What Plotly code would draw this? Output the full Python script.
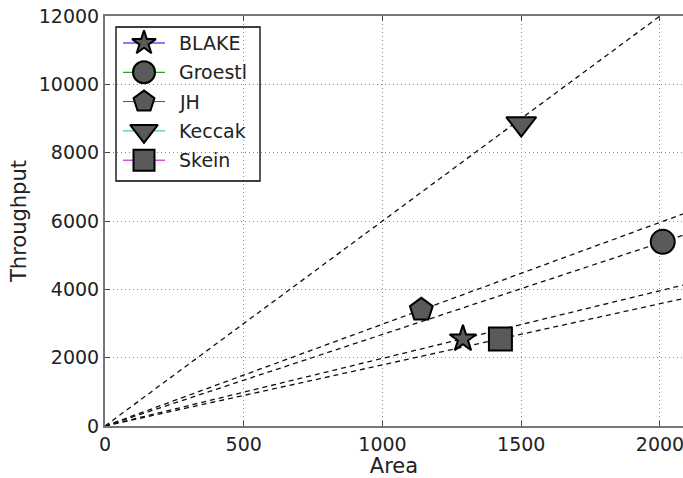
import plotly.graph_objects as go

names = ["BLAKE", "Groestl", "JH", "Keccak", "Skein"]
area = [1290, 2010, 1140, 1500, 1425]
throughput = [2550, 5390, 3400, 8850, 2550]
ratio = [1.98, 2.68, 2.98, 6.0, 1.79]
line_end_x = 2100
legend_colors = ["#0000ff", "#008000", "#ff0000", "#00bfbf", "#bf00bf"]
symbols = ["star", "circle", "pentagon", "triangle-down", "square"]
sizes = [20, 24, 24, 26, 23]

x_ticks = [0, 500, 1000, 1500, 2000]
y_ticks = [0, 2000, 4000, 6000, 8000, 10000, 12000]
y_tick_text = [str(v) for v in y_ticks]
x_tick_text = [str(v) for v in x_ticks]

# legend layout (pixel-space overlay axis spanning the plot area)
L_LEFT, L_RIGHT, L_TOP, L_BOTTOM = 116, 260, 27, 181
leg_y0, leg_dy = 43, 29.3
leg_sym_x0, leg_sym_x1, leg_sym_xc, leg_text_x = 123, 165, 144, 177

fig = go.Figure()

for r in ratio:
    fig.add_trace(go.Scatter(
        x=[0, line_end_x], y=[0, line_end_x * r], mode="lines",
        line=dict(color="#111111", width=1.3, dash="5px,4px"),
        showlegend=False, hoverinfo="skip"))

for n, a, t, c, s, sz in zip(names, area, throughput, legend_colors, symbols, sizes):
    fig.add_trace(go.Scatter(
        x=[a], y=[t], mode="lines+markers", name=n, showlegend=False,
        cliponaxis=False,
        line=dict(color=c, width=1),
        marker=dict(symbol=s, size=sz, color="#5a5a5a",
                    line=dict(color="black", width=2))))

# custom legend drawn on an overlay axis
for i, (n, c, s, sz) in enumerate(zip(names, legend_colors, symbols, sizes)):
    yy = leg_y0 + i * leg_dy
    fig.add_trace(go.Scatter(
        x=[leg_sym_x0, leg_sym_x1], y=[yy, yy], mode="lines",
        line=dict(color=c, width=1), xaxis="x2", yaxis="y2",
        showlegend=False, hoverinfo="skip"))
    fig.add_trace(go.Scatter(
        x=[leg_sym_xc], y=[yy], mode="markers", xaxis="x2", yaxis="y2",
        marker=dict(symbol=s, size=sz - 2, color="#5a5a5a",
                    line=dict(color="black", width=2)),
        showlegend=False, hoverinfo="skip"))
    fig.add_annotation(x=leg_text_x, y=yy, xref="x2", yref="y2", text=n,
                       showarrow=False, xanchor="left", yanchor="middle",
                       font=dict(family="DejaVu Sans", size=19, color="#222222"))

fig.add_shape(type="rect", xref="x2", yref="y2", x0=L_LEFT, x1=L_RIGHT,
              y0=L_TOP, y1=L_BOTTOM, line=dict(color="black", width=1.3),
              fillcolor="rgba(0,0,0,0)", layer="above")

axis_common = dict(
    showgrid=True, gridcolor="#8a8a8a", griddash="1px,3px", gridwidth=1,
    zeroline=False, showline=True, linecolor="#777777", linewidth=2,
    ticks="inside", ticklen=5, tickcolor="#444444", automargin=False,
    ticklabeloverflow="allow",
    tickfont=dict(family="DejaVu Sans", size=19, color="#222222"),
)

fig.update_layout(
    width=683, height=478,
    margin=dict(l=105, r=0, t=16, b=52),
    plot_bgcolor="white", paper_bgcolor="white",
    font=dict(family="DejaVu Sans", color="#222222"),
    showlegend=False,
    xaxis=dict(range=[0, 2083], tickmode="array", tickvals=x_ticks, ticktext=x_tick_text,
               mirror="ticks",
               title=dict(text="Area", font=dict(family="DejaVu Sans", size=21, color="#222222"), standoff=0),
               **axis_common),
    yaxis=dict(range=[0, 12000], tickmode="array", tickvals=y_ticks, ticktext=y_tick_text,
               mirror=False,
               title=dict(text="Throughput", font=dict(family="DejaVu Sans", size=21, color="#222222"), standoff=6),
               **axis_common),
    xaxis2=dict(overlaying="x", range=[105, 683], visible=False, fixedrange=True),
    yaxis2=dict(overlaying="y", range=[426, 16], visible=False, fixedrange=True),
)

fig.write_html("out.html", config={"displayModeBar": False},
               post_script="document.body.style.margin='0';document.body.style.overflow='hidden';")
